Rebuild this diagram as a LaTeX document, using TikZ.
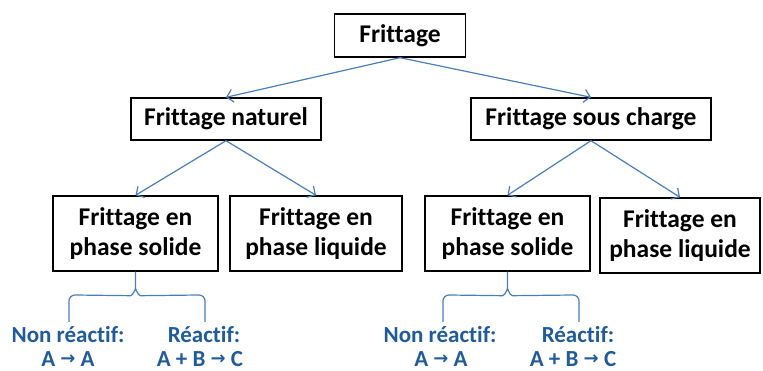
\documentclass[tikz,border=0pt]{standalone}
\usepackage{fontspec}
\setmainfont[Ligatures=NoCommon]{Carlito}
\newfontfamily\arrfont{DejaVu Sans}
\usetikzlibrary{arrows.meta}
\definecolor{linkblue}{HTML}{4A7EBB}
\definecolor{txtblue}{HTML}{1F5C99}
\tikzset{
  box/.style={draw=black,line width=1.4pt,fill=white,align=center,inner sep=0pt,font=\fontsize{25.5}{30}\selectfont\bfseries},
  link/.style={draw=linkblue,line width=1.2pt,-{Straight Barb[length=6pt,width=13pt,line width=1.2pt]}},
  brace/.style={draw=linkblue,line width=1.2pt},
  lbl/.style={text=txtblue,inner sep=0pt,anchor=base,font=\fontsize{23}{27}\selectfont\bfseries},
}
\newcommand{\ar}{\raisebox{0.08em}{\arrfont\fontsize{18}{18}\selectfont →}}
\begin{document}
\begin{tikzpicture}[x=1pt,y=-1pt]
\useasboundingbox (0,0) rectangle (763,371);
\node[box,minimum width=131pt,minimum height=43pt] (f) at (400,35.5) {Frittage};
\node[box,minimum width=190pt,minimum height=42pt] (n) at (226,119) {Frittage naturel};
\node[box,minimum width=240pt,minimum height=42pt] (s) at (591,119) {Frittage sous charge};
\node[box,minimum width=165pt,minimum height=75pt] (b1) at (135.5,233.5) {Frittage en\\phase solide};
\node[box,minimum width=172pt,minimum height=75pt] (b2) at (316,233.5) {Frittage en\\phase liquide};
\node[box,minimum width=165pt,minimum height=75pt] (b3) at (507.5,233.5) {Frittage en\\phase solide};
\node[box,minimum width=160pt,minimum height=75pt] (b4) at (680,235.5) {Frittage en\\phase liquide};
\draw[link] (f.south) -- (n.north);
\draw[link] (f.south) -- (s.north);
\draw[link] (n.south) -- (b1.north);
\draw[link] (n.south) -- (b2.north);
\draw[link] (s.south) -- (b3.north);
\draw[link] (s.south) -- (b4.north);
% braces
\coordinate (p1) at (b1.south);
\draw[brace] (p1) -- ++(0,18) to[out=90,in=0] ++(-5,6) -- (75,295) to[out=180,in=90] (69,301) -- (69,322);
\draw[brace] (p1) ++(0,18) to[out=90,in=180] ++(5,6) -- (199,295) to[out=0,in=90] (205,301) -- (205,322);
\coordinate (p3) at (b3.south);
\draw[brace] (p3) -- ++(0,18) to[out=90,in=0] ++(-5,6) -- (449,295) to[out=180,in=90] (443,301) -- (443,322);
\draw[brace] (p3) ++(0,18) to[out=90,in=180] ++(5,6) -- (573,295) to[out=0,in=90] (579,301) -- (579,322);
\node[lbl] (nr1) at (68,342) {Non réactif:};
\node[lbl] (e1) at (68,366.5) {A \ar\ A};
\node[lbl] (r1) at (204,342) {Réactif:};
\node[lbl] (e2) at (200,366.5) {A + B \ar\ C};
\node[lbl] (nr2) at (440,342) {Non réactif:};
\node[lbl] (e3) at (441,366.5) {A \ar\ A};
\node[lbl] (r2) at (578,342) {Réactif:};
\node[lbl] (e4) at (573,366.5) {A + B \ar\ C};
\end{tikzpicture}
\end{document}
